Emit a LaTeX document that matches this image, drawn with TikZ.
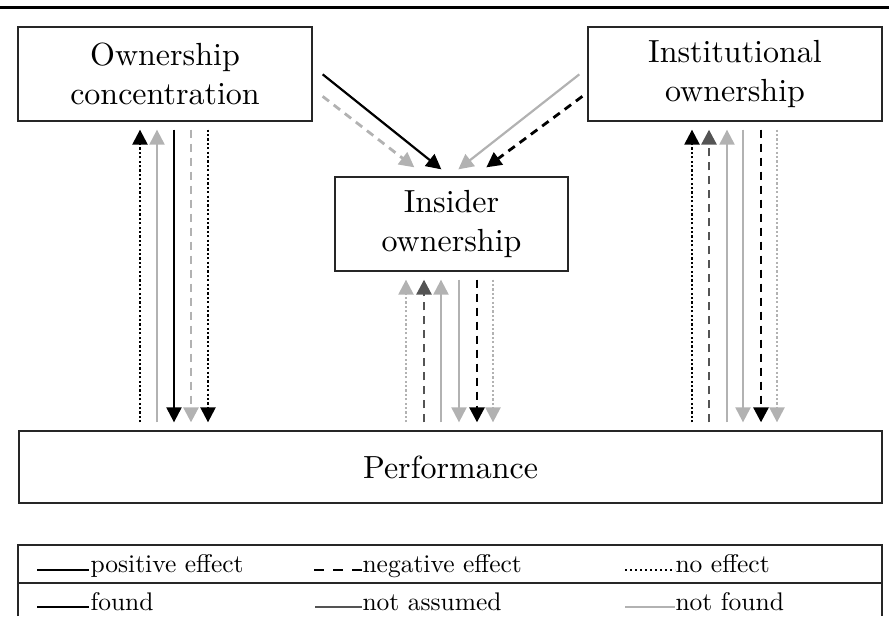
\documentclass[tikz,border=0pt]{standalone}
\usetikzlibrary{arrows.meta,calc}
\definecolor{dgray}{gray}{0.33}
\definecolor{lgray}{gray}{0.70}
\tikzset{
  x=1pt, y=-1pt,
  box/.style={draw=black!85, line width=1.3pt, rectangle, inner sep=0pt},
  boxtext/.style={align=center, font=\fontsize{10}{12}\selectfont, scale=3.2, inner sep=0pt},
  legtext/.style={anchor=base west, font=\fontsize{10}{12}\selectfont, scale=2.55, inner sep=0pt},
  arr/.style={line width=2.2pt, -{Triangle[length=15pt,width=15pt]}},
  gap/.style={shorten <=8pt, shorten >=8pt},
  dashln/.style={line width=2.8pt, dash pattern=on 8pt off 6pt},
  dotln/.style={line width=2.4pt, dash pattern=on 2.2pt off 2.2pt},
}
\begin{document}
\begin{tikzpicture}
\useasboundingbox (0,0) rectangle (889,616);
% top rule
\draw[line width=3pt] (0,7) -- (889,7);
% boxes
\node[box, minimum width=294pt, minimum height=94pt] (oc) at (165,74) {};
\node[box, minimum width=294pt, minimum height=94pt] (io) at (735,74) {};
\node[box, minimum width=233pt, minimum height=94pt] (ins) at (451.5,224) {};
\node[box, minimum width=863pt, minimum height=72pt] (perf) at (450.5,467) {};
\node[boxtext] (toc) at (oc) {Ownership\\concentration};
\node[boxtext] (tio) at (io) {Institutional\\ownership};
\node[boxtext] (tins) at (ins) {Insider\\ownership};
\node[boxtext] (tperf) at (perf) {Performance};
% diagonal arrows
\draw[arr, black] ($(oc.north east)+(10,48)$) -- ($(ins.north west)+(107,-7)$);
\draw[arr, lgray, dashln] ($(oc.north east)+(10,70)$) -- ($(ins.north west)+(80,-9)$);
\draw[arr, lgray] ($(io.north west)+(-8,48)$) -- ($(ins.north west)+(124,-7)$);
\draw[arr, black, dashln] ($(io.north west)+(-5,70)$) -- ($(ins.north west)+(152,-9)$);
% ownership concentration <-> performance
\draw[arr, gap, black, dotln] (140,0 |- perf.north) -- (140,0 |- oc.south);
\draw[arr, gap, lgray] (157,0 |- perf.north) -- (157,0 |- oc.south);
\draw[arr, gap, black] (174,0 |- oc.south) -- (174,0 |- perf.north);
\draw[arr, gap, lgray, dashln] (191,0 |- oc.south) -- (191,0 |- perf.north);
\draw[arr, gap, black, dotln] (208,0 |- oc.south) -- (208,0 |- perf.north);
% insider <-> performance
\draw[arr, gap, lgray, dotln] (406,0 |- perf.north) -- (406,0 |- ins.south);
\draw[arr, gap, dgray, dashln] (424,0 |- perf.north) -- (424,0 |- ins.south);
\draw[arr, gap, lgray] (441,0 |- perf.north) -- (441,0 |- ins.south);
\draw[arr, gap, lgray] (459,0 |- ins.south) -- (459,0 |- perf.north);
\draw[arr, gap, black, dashln] (477,0 |- ins.south) -- (477,0 |- perf.north);
\draw[arr, gap, lgray, dotln] (493,0 |- ins.south) -- (493,0 |- perf.north);
% institutional <-> performance
\draw[arr, gap, black, dotln] (692,0 |- perf.north) -- (692,0 |- io.south);
\draw[arr, gap, dgray, dashln] (709,0 |- perf.north) -- (709,0 |- io.south);
\draw[arr, gap, lgray] (727,0 |- perf.north) -- (727,0 |- io.south);
\draw[arr, gap, lgray] (743,0 |- io.south) -- (743,0 |- perf.north);
\draw[arr, gap, black, dashln] (761,0 |- io.south) -- (761,0 |- perf.north);
\draw[arr, gap, lgray, dotln] (777,0 |- io.south) -- (777,0 |- perf.north);
% legend
\draw[draw=black!85, line width=1.3pt] (18,616) -- (18,545) -- (882,545) -- (882,616);
\draw[draw=black!85, line width=1.3pt] (18,583) -- (882,583);
\draw[line width=2.4pt] (37,570) -- (89,570);
\draw[line width=2.4pt, dash pattern=on 10pt off 9pt] (314,570) -- (362,570);
\draw[line width=1.6pt, dash pattern=on 1.6pt off 3.4pt] (625,570) -- (675,570);
\node[legtext] at (90,572.5) {positive effect};
\node[legtext] at (362,572.5) {negative effect};
\node[legtext] at (675,572.5) {no effect};
\draw[line width=2.4pt] (37,607) -- (89,607);
\draw[line width=2.4pt, dgray] (315,607) -- (362,607);
\draw[line width=2.4pt, lgray] (625,607) -- (675,607);
\node[legtext] at (90,610.5) {found};
\node[legtext] at (362,610.5) {not assumed};
\node[legtext] at (675,610.5) {not found};
\end{tikzpicture}
\end{document}
